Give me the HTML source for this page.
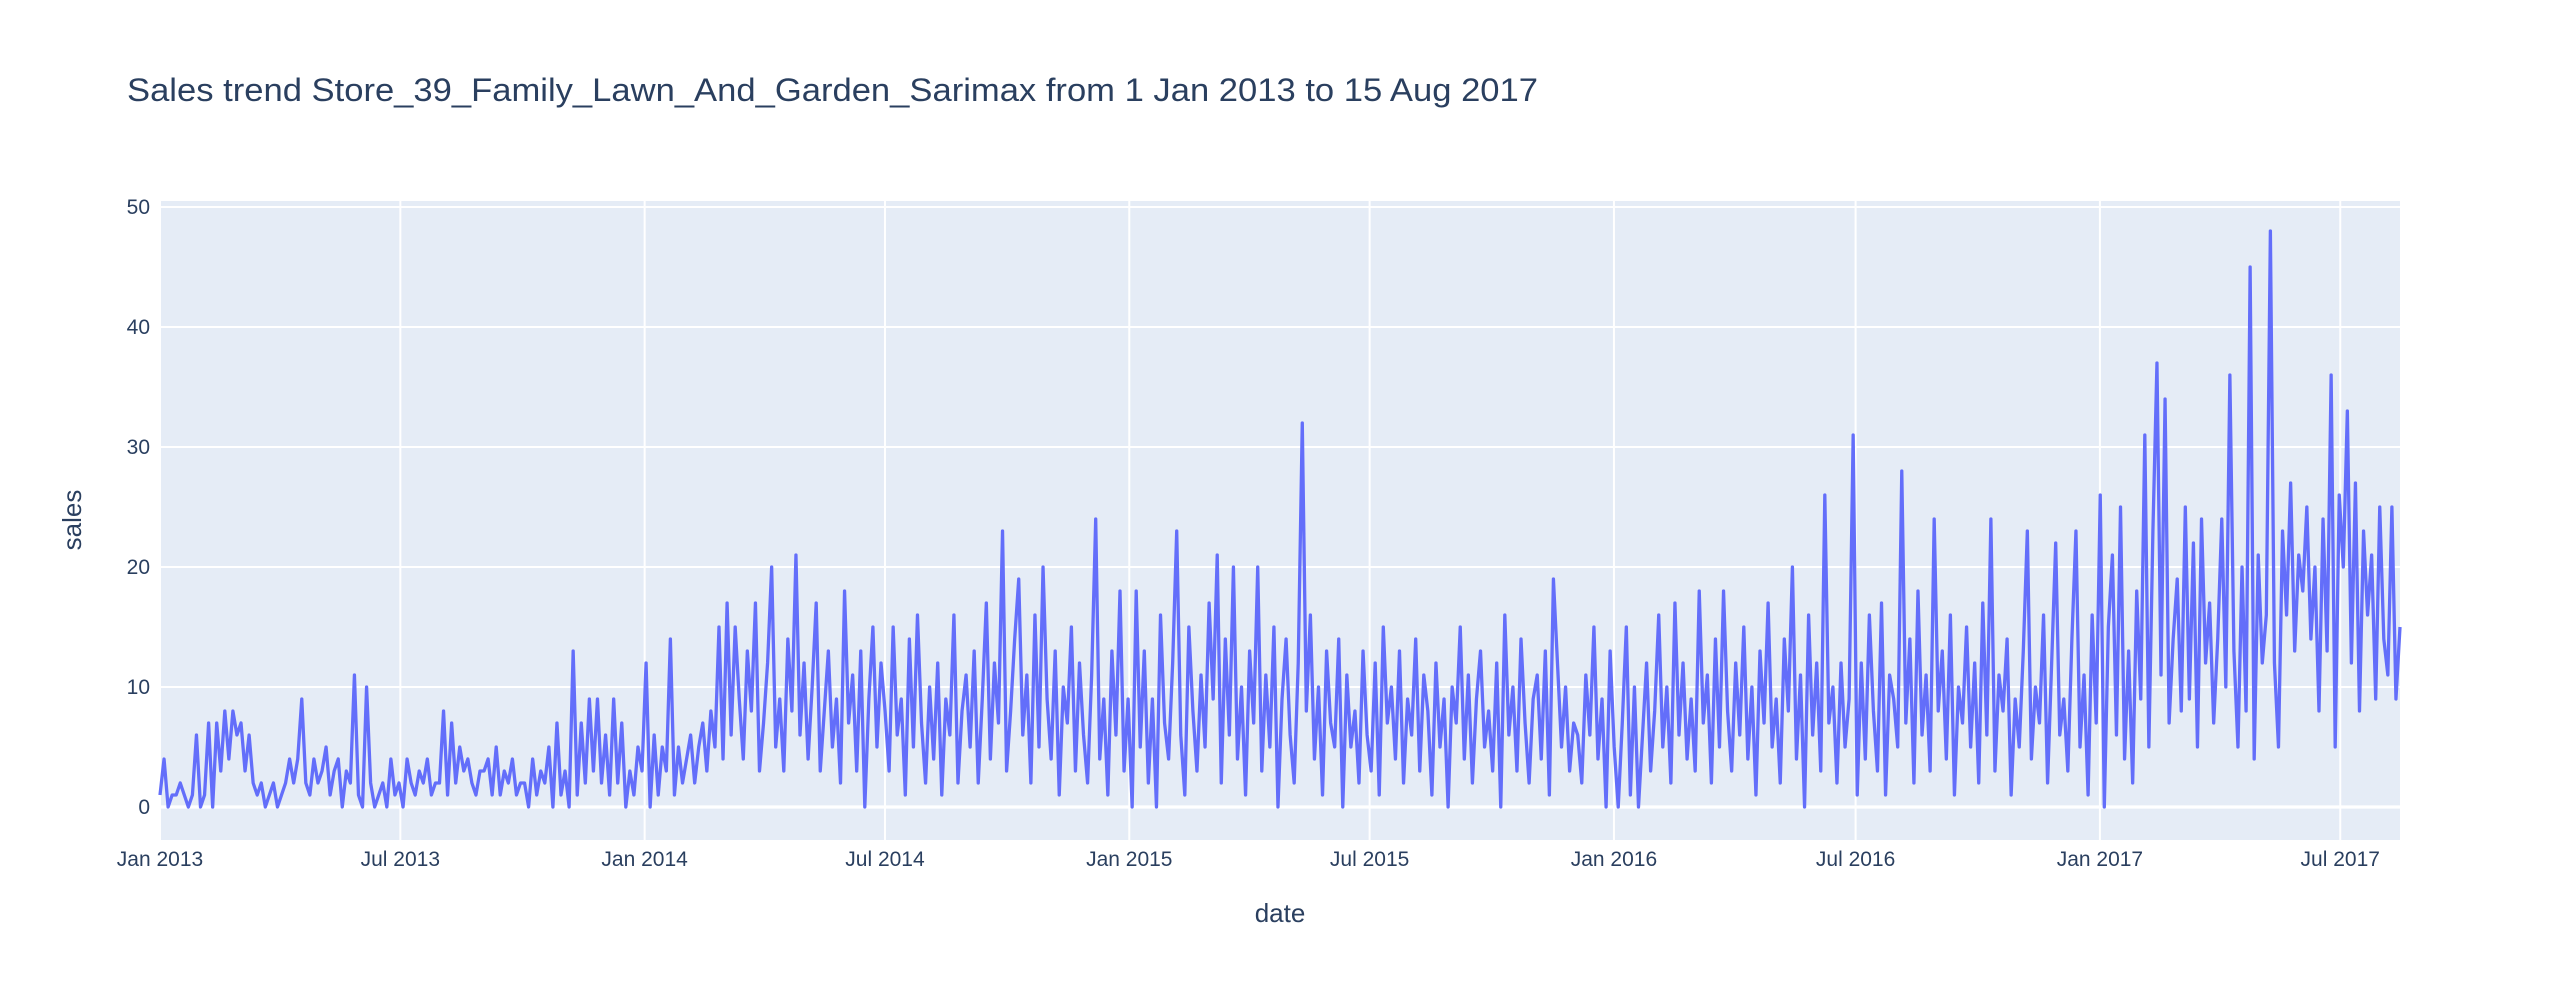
<!DOCTYPE html>
<html><head><meta charset="utf-8"><style>
html,body{margin:0;padding:0;background:#fff;}
svg{display:block;font-family:"Liberation Sans",sans-serif;}
</style></head><body>
<svg id="chart" width="2560" height="1000" viewBox="0 0 2560 1000">
<rect x="0" y="0" width="2560" height="1000" fill="#fff"/>
<text x="127" y="101" font-size="32" fill="#2a3f5f" textLength="1411" lengthAdjust="spacingAndGlyphs">Sales trend Store_39_Family_Lawn_And_Garden_Sarimax from  1 Jan 2013 to 15 Aug 2017</text>
<rect x="160" y="201" width="2240" height="639" fill="#e5ecf6"/>
<g id="grid"></g>
<g id="series"></g>
<g id="xticks"></g>
<g id="yticks"></g>
<text x="1280" y="922" font-size="26" fill="#2a3f5f" text-anchor="middle">date</text>
<text x="0" y="0" font-size="26" fill="#2a3f5f" text-anchor="middle" transform="translate(81,520) rotate(-90)">sales</text>
</svg>
<script>
const startDate = "2013-01-01";
const endDate = "2017-08-15";
const sales = [
1,4,0,1,1,2,1,0,1,6, 0,1,7,0,7,3,8,4,8,6, 7,3,6,2,1,2,0,1,2,0, 1,2,4,2,4,9,2,1,4,2, 3,5,1,3,4,0,3,2,11,1, 0,10,2,0,1,2,0,4,1,2,
0,4,2,1,3,2,4,1,2,2, 8,1,7,2,5,3,4,2,1,3, 3,4,1,5,1,3,2,4,1,2, 2,0,4,1,3,2,5,0,7,1, 3,0,13,1,7,2,9,3,9,2, 6,1,9,2,7,0,3,1,5,3,
12,0,6,1,5,3,14,1,5,2, 4,6,2,5,7,3,8,5,15,4, 17,6,15,9,4,13,8,17,3,7, 12,20,5,9,3,14,8,21,6,12, 4,10,17,3,8,13,5,9,2,18, 7,11,3,13,0,9,15,5,12,8,
3,15,6,9,1,14,5,16,7,2, 10,4,12,1,9,6,16,2,8,11, 5,13,2,9,17,4,12,7,23,3, 8,14,19,6,11,2,16,5,20,9, 4,13,1,10,7,15,3,12,6,2, 11,24,4,9,1,13,6,18,3,9,
0,18,5,13,2,9,0,16,7,4, 12,23,6,1,15,8,3,11,5,17, 9,21,2,14,6,20,4,10,1,13, 7,20,3,11,5,15,0,9,14,6, 2,12,32,8,16,4,10,1,13,7, 5,14,0,11,5,8,2,13,6,3,
12,1,15,7,10,4,13,2,9,6, 14,3,11,8,1,12,5,9,0,10, 7,15,4,11,2,9,13,5,8,3, 12,0,16,6,10,3,14,7,2,9, 11,4,13,1,19,12,5,10,3,7, 6,2,11,6,15,4,9,0,13,5,
0,7,15,1,10,0,6,12,3,8, 16,5,10,2,17,6,12,4,9,3, 18,7,11,2,14,5,18,8,3,12, 6,15,4,10,1,13,7,17,5,9, 2,14,8,20,4,11,0,16,6,12, 3,26,7,10,2,12,5,9,31,1,
12,4,16,8,3,17,1,11,9,5, 28,7,14,2,18,6,11,3,24,8, 13,4,16,1,10,7,15,5,12,2, 17,6,24,3,11,8,14,1,9,5, 13,23,4,10,7,16,2,12,22,6, 9,3,14,23,5,11,1,16,7,26,
0,15,21,6,25,4,13,2,18,9, 31,5,23,37,11,34,7,14,19,8, 25,9,22,5,24,12,17,7,14,24, 10,36,13,5,20,8,45,4,21,12, 16,48,12,5,23,16,27,13,21,18, 25,14,20,8,24,13,36,5,26,20,
33,12,27,8,23,16,21,9,25,14, 11,25,9,15
];
const xTickDates = ["2013-01-01","2013-07-01","2014-01-01","2014-07-01","2015-01-01","2015-07-01","2016-01-01","2016-07-01","2017-01-01","2017-07-01"];
const xTickLabels = ["Jan 2013","Jul 2013","Jan 2014","Jul 2014","Jan 2015","Jul 2015","Jan 2016","Jul 2016","Jan 2017","Jul 2017"];
const yTicks = [0,10,20,30,40,50];

const NS = "http://www.w3.org/2000/svg";
const PL = 160, PR = 2400, PT = 201, PB = 840;
const Y0 = 807, Y50 = 207;
const t0 = Date.parse(startDate), t1 = Date.parse(endDate);
function xScale(t){ return PL + (t - t0) / (t1 - t0) * (PR - PL); }
function yScale(v){ return Y0 + (Y50 - Y0) * v / 50; }

const grid = document.getElementById('grid');
xTickDates.forEach((d, i) => {
  const x = xScale(Date.parse(d));
  const l = document.createElementNS(NS, 'line');
  l.setAttribute('x1', x); l.setAttribute('x2', x); l.setAttribute('y1', PT); l.setAttribute('y2', PB);
  l.setAttribute('stroke', '#fff'); l.setAttribute('stroke-width', '2');
  
  
  grid.appendChild(l);
  const t = document.createElementNS(NS, 'text');
  t.setAttribute('x', x); t.setAttribute('y', 866);
  t.setAttribute('font-size', '21'); t.setAttribute('fill', '#2a3f5f'); t.setAttribute('text-anchor', 'middle');
  t.textContent = xTickLabels[i];
  
  
  document.getElementById('xticks').appendChild(t);
});
yTicks.forEach(v => {
  const y = yScale(v);
  const l = document.createElementNS(NS, 'line');
  l.setAttribute('x1', PL); l.setAttribute('x2', PR); l.setAttribute('y1', y); l.setAttribute('y2', y);
  l.setAttribute('stroke', '#fff'); l.setAttribute('stroke-width', v === 0 ? '3.3' : '2');
  
  
  grid.appendChild(l);
  const t = document.createElementNS(NS, 'text');
  t.setAttribute('x', 150); t.setAttribute('y', y + 7);
  t.setAttribute('font-size', '21'); t.setAttribute('fill', '#2a3f5f'); t.setAttribute('text-anchor', 'end');
  t.textContent = String(v);
  
  
  document.getElementById('yticks').appendChild(t);
});

const n = sales.length;
const pts = sales.map((v, i) => {
  const t = t0 + (t1 - t0) * i / (n - 1);
  return xScale(t).toFixed(2) + ',' + yScale(v).toFixed(2);
});
const path = document.createElementNS(NS, 'polyline');
path.setAttribute('points', pts.join(' '));
path.setAttribute('fill', 'none');
path.setAttribute('stroke', '#636efa');
path.setAttribute('stroke-width', '3.3');
path.setAttribute('stroke-linejoin', 'round');


document.getElementById('series').appendChild(path);
</script>
</body></html>
